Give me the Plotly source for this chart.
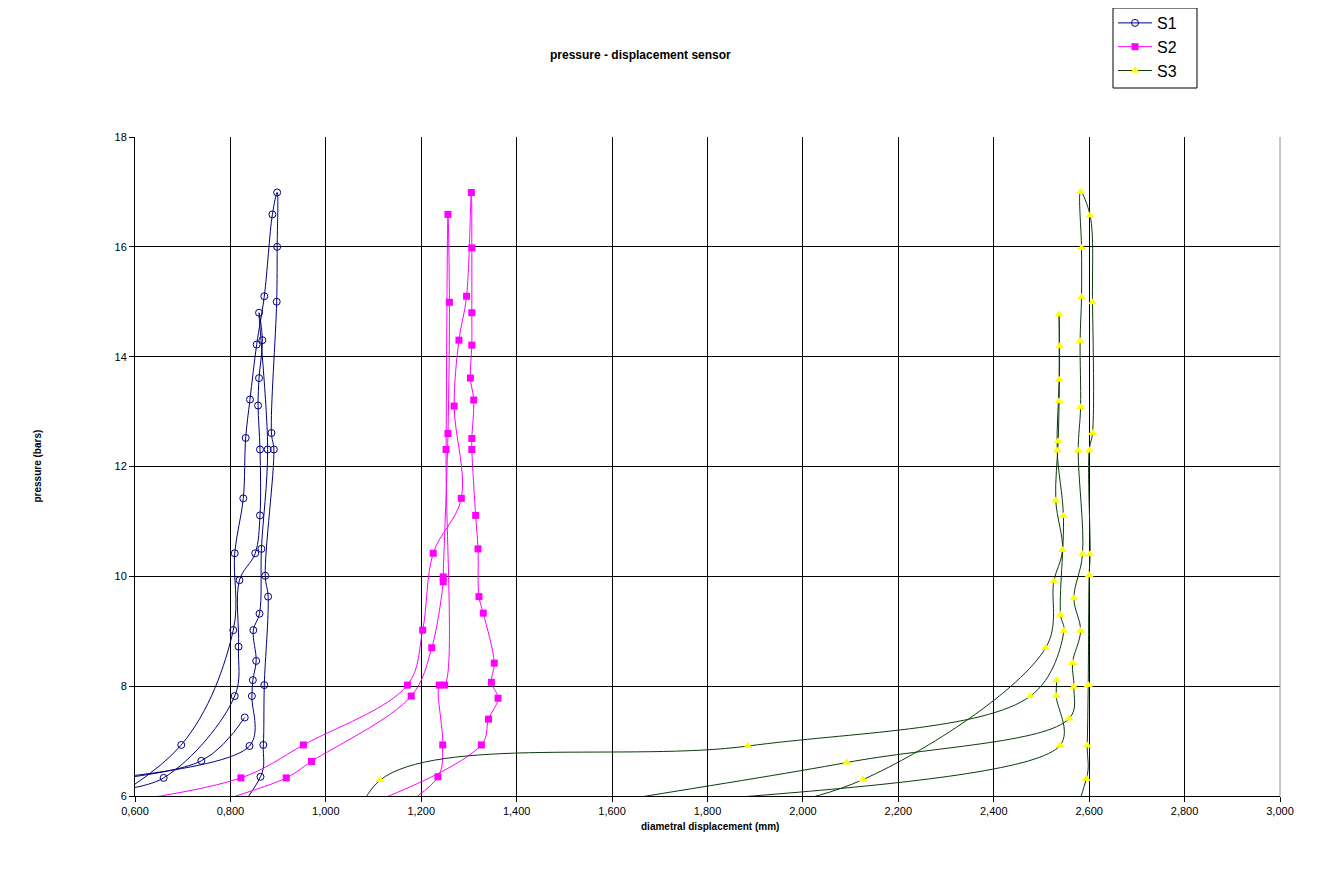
import plotly.graph_objects as go

# ---------------- data ----------------
s1_disp = [0.40, 0.697, 0.806, 0.809, 0.827, 0.832, 0.841, 0.855, 0.871, 0.888, 0.898,
           0.898, 0.897, 0.886, 0.891, 0.873, 0.879, 0.871, 0.869, 0.863, 0.70,
           0.45, 0.660, 0.809, 0.817, 0.819, 0.852, 0.862, 0.862, 0.858, 0.860, 0.867, 0.860,
           0.878, 0.865, 0.861, 0.848, 0.854, 0.847, 0.845, 0.840, 0.40,
           0.739, 0.830]
s1_press = [5.2, 6.93, 9.02, 10.42, 11.42, 12.52, 13.22, 14.22, 15.10, 16.59, 16.99,
            16.00, 15.00, 12.61, 12.31, 10.01, 9.63, 8.02, 6.93, 6.35, 5.0,
            5.9, 6.33, 7.82, 8.72, 9.93, 10.42, 11.11, 12.31, 13.11, 13.61, 14.30, 14.80,
            12.31, 10.50, 9.32, 9.02, 8.46, 8.11, 7.82, 6.91, 6.2,
            6.64, 7.43]

s2_disp = [0.50, 0.822, 0.953, 1.171, 1.203, 1.225, 1.284, 1.269, 1.279, 1.295, 1.305,
           1.306, 1.306, 1.306, 1.303, 1.310, 1.306, 1.306, 1.314, 1.319, 1.321, 1.330,
           1.353, 1.347, 1.361, 1.341, 1.326, 0.95,
           0.70, 0.917, 0.970, 1.179, 1.222, 1.246, 1.246, 1.256, 1.259, 1.256,
           1.252, 1.249, 1.238, 1.245, 1.235, 1.10]
s2_press = [5.8, 6.33, 6.93, 8.02, 9.02, 10.42, 11.42, 13.10, 14.30, 15.10, 16.99,
            15.98, 14.80, 14.21, 13.61, 13.21, 12.51, 12.31, 11.11, 10.50, 9.63, 9.33,
            8.42, 8.07, 7.78, 7.40, 6.93, 5.5,
            5.6, 6.33, 6.63, 7.82, 8.70, 9.90, 9.99, 12.60, 14.99, 16.59,
            12.31, 8.02, 8.02, 6.93, 6.35, 5.5]

s3_disp = [1.05, 1.114, 1.885, 2.477, 2.547, 2.540, 2.546, 2.533, 2.537, 2.537,
           2.538, 2.537, 2.535, 2.530, 2.544, 2.526, 2.509, 2.126, 1.75,
           1.30, 2.092, 2.558, 2.568, 2.565, 2.582, 2.568, 2.586, 2.577, 2.582, 2.581,
           2.584, 2.584, 2.582,
           2.602, 2.607, 2.607, 2.600, 2.602, 2.600, 2.598, 2.596, 2.594, 2.50,
           1.50, 2.539, 2.531, 2.532]
s3_press = [4.6, 6.29, 6.91, 7.82, 9.01, 9.30, 11.10, 12.29, 13.58, 14.77,
            14.19, 13.19, 12.46, 11.38, 10.48, 9.91, 8.70, 6.30, 5.6,
            5.4, 6.61, 7.41, 7.99, 8.42, 9.01, 9.60, 10.40, 12.29, 13.08, 14.28,
            15.08, 15.98, 17.00,
            16.57, 14.99, 12.61, 12.29, 10.40, 10.02, 8.02, 6.92, 6.31, 5.0,
            5.6, 6.92, 7.82, 8.11]

series_names = ["S1", "S2", "S3"]
x_range = [0.6, 3.0]
y_range = [6, 18]
title_text = "pressure - displacement sensor"
x_title = "diametral displacement (mm)"
y_title = "pressure (bars)"

# ---------------- layout geometry ----------------
# The page body has an 8px margin, so the figure is drawn 8px in from the window edge.
OFF = 8
W, H = 1324, 875
L, R, T, B = 127, 52, 129, 87
pw, ph = W - L - R, H - T - B


def pxx(px):  # window pixel -> paper x
    return (px - OFF - L) / pw


def pxy(py):  # window pixel -> paper y
    return (H - B - (py - OFF)) / ph


FONT = "Arial, Liberation Sans, sans-serif"

fig = go.Figure()
fig.add_trace(go.Scatter(
    x=s1_disp, y=s1_press, mode="lines+markers", name=series_names[0],
    line=dict(color="#000080", width=1, shape="spline", smoothing=1),
    marker=dict(symbol="circle-open", size=7, color="#000080", line=dict(width=1)),
))
fig.add_trace(go.Scatter(
    x=s2_disp, y=s2_press, mode="lines+markers", name=series_names[1],
    line=dict(color="#FF00FF", width=1, shape="spline", smoothing=1),
    marker=dict(symbol="square", size=7, color="#FF00FF"),
))
fig.add_trace(go.Scatter(
    x=s3_disp, y=s3_press, mode="lines+markers", name=series_names[2],
    line=dict(color="#0b3a0b", width=1, shape="spline", smoothing=1),
    marker=dict(symbol="triangle-up", size=8, color="#FFFF00"),
))

axis_common = dict(
    showgrid=True, gridcolor="black", gridwidth=1,
    showline=True, linecolor="black", linewidth=1,
    ticks="outside", ticklen=5, tickcolor="black",
    tickfont=dict(family=FONT, size=11, color="black"),
    zeroline=False,
)

fig.update_layout(
    width=W, height=H,
    margin=dict(l=L, r=R, t=T, b=B, autoexpand=False),
    paper_bgcolor="white", plot_bgcolor="white",
    separators=",.",
    font=dict(family=FONT, color="black"),
    xaxis=dict(range=x_range, dtick=0.2, tick0=0.6, tickformat=".3f", **axis_common),
    yaxis=dict(range=y_range, dtick=2, tick0=6, **axis_common),
    legend=dict(
        x=pxx(1113), y=pxy(6), xanchor="left", yanchor="top",
        bgcolor="rgba(0,0,0,0)", borderwidth=0,
        font=dict(family=FONT, size=16, color="black"),
        tracegroupgap=0, itemwidth=34,
    ),
    showlegend=True,
)

# legend frame
fig.add_shape(type="rect", xref="paper", yref="paper",
              x0=pxx(1113), x1=pxx(1197), y0=pxy(88), y1=pxy(8),
              line=dict(color="black", width=1), fillcolor="rgba(0,0,0,0)")

fig.add_annotation(text="<b>" + title_text + "</b>", xref="paper", yref="paper",
                   x=pxx(640), y=pxy(55), xanchor="center", yanchor="middle",
                   showarrow=False, font=dict(family=FONT, size=12, color="black"))
fig.add_annotation(text="<b>" + x_title + "</b>", xref="paper", yref="paper",
                   x=pxx(710), y=pxy(826), xanchor="center", yanchor="middle",
                   showarrow=False, font=dict(family=FONT, size=10, color="black"))
fig.add_annotation(text="<b>" + y_title + "</b>", xref="paper", yref="paper",
                   x=pxx(37), y=0.5, xanchor="center", yanchor="middle", textangle=-90,
                   showarrow=False, font=dict(family=FONT, size=10, color="black"))

# plot-area right border (grey)
fig.add_shape(type="line", xref="paper", yref="paper", x0=1, x1=1, y0=0, y1=1,
              line=dict(color="#909090", width=1))

fig.write_html("out.html")
